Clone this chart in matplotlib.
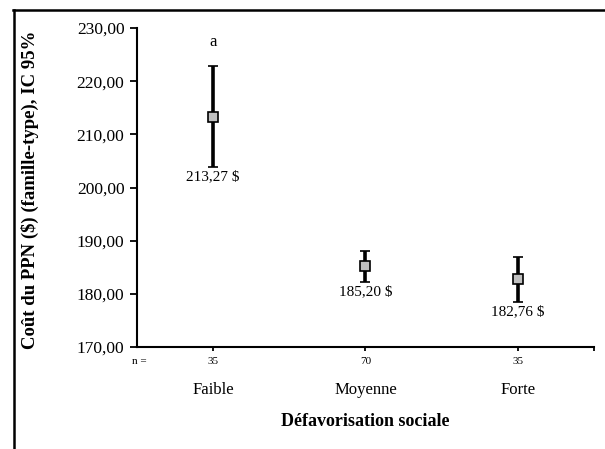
"""Coût du PPN selon la défavorisation sociale."""

import matplotlib
matplotlib.use('Agg')
import matplotlib.pyplot as plt
from matplotlib.lines import Line2D
from matplotlib.ticker import FuncFormatter

categories = ['Faible', 'Moyenne', 'Forte']
n_counts = ['35', '70', '35']
means = [213.27, 185.20, 182.76]
ci_low = [203.9, 182.3, 178.5]
ci_high = [222.8, 188.1, 187.0]
value_labels = ['213,27 $', '185,20 $', '182,76 $']
letters = ['a', '', '']

plt.rcParams['font.family'] = ['Liberation Serif', 'DejaVu Serif']

fig = plt.figure(figsize=(6.05, 4.49), dpi=100)
ax = fig.add_axes([0.2264, 0.2272, 0.7554, 0.7104])

x = [i + 0.5 for i in range(len(categories))]
yerr = [[m - lo for m, lo in zip(means, ci_low)],
        [hi - m for m, hi in zip(means, ci_high)]]
ax.errorbar(x, means, yerr=yerr, fmt='s', color='black', ecolor='black',
            elinewidth=2.6, capsize=3.5, capthick=2.6, markersize=7.5,
            markerfacecolor='#c0c0c0', markeredgecolor='black',
            markeredgewidth=1.2, zorder=3)

for xi, lo, lab in zip(x, ci_low, value_labels):
    ax.text(xi, lo - 0.6, lab, ha='center', va='top', fontsize=11)
for xi, hi, let in zip(x, ci_high, letters):
    if let:
        ax.text(xi, hi + 4.5, let, ha='center', va='center', fontsize=12)

ax.set_xlim(0, 3)
ax.set_ylim(170, 230)
ax.set_yticks([170, 180, 190, 200, 210, 220, 230])
ax.yaxis.set_major_formatter(FuncFormatter(lambda v, p: f'{v:.2f}'.replace('.', ',')))
ax.set_xticks([0.5, 1.5, 2.5, 3.0])
ax.set_xticklabels([])
ax.tick_params(axis='y', labelsize=12.5, direction='out', length=5, width=1.3, pad=4)
ax.tick_params(axis='x', direction='out', length=3, width=1.3)
ax.spines['top'].set_visible(False)
ax.spines['right'].set_visible(False)
ax.spines['left'].set_linewidth(1.5)
ax.spines['bottom'].set_linewidth(1.5)

# n counts and category names below the axis
trans = ax.get_xaxis_transform()
ax.text(-0.03, -0.045, 'n =', transform=trans, ha='left', va='center', fontsize=8)
for xi, n, cat in zip(x, n_counts, categories):
    ax.text(xi, -0.045, n, transform=trans, ha='center', va='center', fontsize=8)
    ax.text(xi, -0.135, cat, transform=trans, ha='center', va='center', fontsize=12)

fig.text((137 + 594) / 2 / 605, 1 - 421 / 449, 'Défavorisation sociale',
         ha='center', va='center', fontsize=13, fontweight='bold')
fig.text(30 / 605, 1 - 190 / 449, 'Coût du PPN ($) (famille-type), IC 95%',
         ha='center', va='center', rotation=90, fontsize=13.5, fontweight='bold')

# partial frame around the figure
fig.add_artist(Line2D([14 / 605, 14 / 605], [0, 1 - 10 / 449], color='black',
                      linewidth=1.8, transform=fig.transFigure))
fig.add_artist(Line2D([13 / 605, 1], [1 - 10 / 449, 1 - 10 / 449], color='black',
                      linewidth=1.8, transform=fig.transFigure))

fig.savefig('out.png', dpi=100)
